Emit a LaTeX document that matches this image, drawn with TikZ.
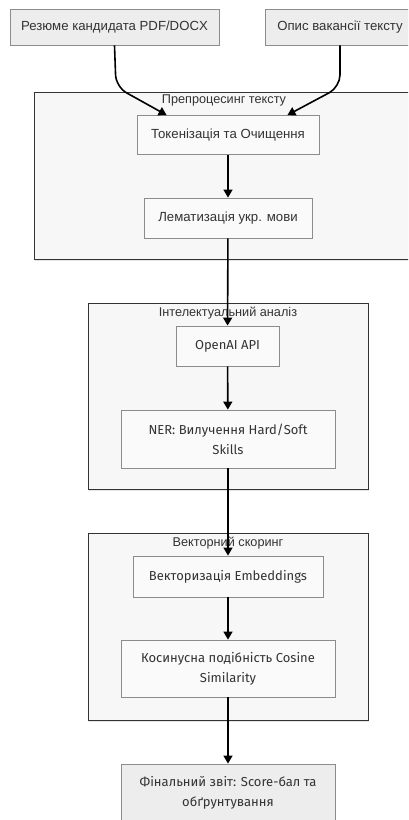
\documentclass[tikz,border=0pt]{standalone}
\usepackage{fontspec}
\setmainfont{Liberation Sans}
\newfontfamily\plexfont{Fira Sans}
\usetikzlibrary{arrows.meta,calc,shadows}

\begin{document}
\begin{tikzpicture}[x=1pt,y=1pt,
    box/.style={draw=black!45,fill=black!2,line width=0.8pt,inner sep=2pt,
      align=center,text=black!80,font=\fontsize{13.2}{19}\selectfont,
      drop shadow={shadow xshift=1pt,shadow yshift=-1pt,opacity=0.2}},
    pbox/.style={box,font=\plexfont\fontsize{13}{20}\selectfont},
    src/.style={box,fill=black!7},
    grp/.style={draw=black!80,fill=black!3,line width=1pt,
      drop shadow={shadow xshift=1pt,shadow yshift=-1pt,opacity=0.2}},
    grptitle/.style={font=\fontsize{12.7}{14}\selectfont,text=black!80,inner sep=1pt},
    arr/.style={-{Triangle[width=9pt,length=8pt]},line width=1.6pt}]
  \clip (0,0) rectangle (408,820);
  \fill[white] (0,0) rectangle (408,820);
  \node[grp,minimum width=388pt,minimum height=167pt] (pre) at (228,643.5) {};
  \node[grp,minimum width=280pt,minimum height=186pt] (ai) at (228,423) {};
  \node[grp,minimum width=280pt,minimum height=187pt] (vec) at (228,192.5) {};
  \node[grptitle] (pret) at (224,720) {Препроцесинг тексту};
  \node[grptitle] (ait) at (228,507) {Інтелектуальний аналіз};
  \node[grptitle] (vect) at (228,277) {Векторний скоринг};
  \node[src,minimum width=209pt,minimum height=36pt] (res) at (114.5,793) {Резюме кандидата PDF/DOCX};
  \node[src,minimum width=150pt,minimum height=36pt] (vac) at (340,793) {Опис вакансії тексту};
  \node[box,minimum width=182pt,minimum height=39pt] (tok) at (228,685) {Токенізація та Очищення};
  \node[box,minimum width=168pt,minimum height=40pt] (lem) at (228,602) {Лематизація укр. мови};
  \node[pbox,minimum width=103pt,minimum height=40pt] (api) at (227.5,474) {OpenAI API};
  \node[pbox,minimum width=214pt,minimum height=58pt] (ner) at (228,381) {NER: Вилучення Hard/Soft\\Skills};
  \node[pbox,minimum width=190pt,minimum height=41pt] (emb) at (228,243.5) {Векторизація Embeddings};
  \node[pbox,minimum width=214pt,minimum height=57pt] (cos) at (228,151.5) {Косинусна подібність Cosine\\Similarity};
  \node[pbox,fill=black!7,minimum width=214pt,minimum height=57pt] (fin) at (228,27.5) {Фінальний звіт: Score-бал та\\обґрунтування};
  \draw[arr,rounded corners=12pt] (res.south) -- (116,733) -- ($(tok.north west)+(30,0)$);
  \draw[arr,rounded corners=12pt] (vac.south) -- (340,733) -- ($(tok.north east)+(-32,0)$);
  \draw[arr] (tok) -- (lem);
  \draw[arr] (lem) -- (api);
  \draw[arr] (api) -- (ner);
  \draw[arr] (ner) -- (emb);
  \draw[arr] (emb) -- (cos);
  \draw[arr] (cos) -- (fin);
\end{tikzpicture}
\end{document}
